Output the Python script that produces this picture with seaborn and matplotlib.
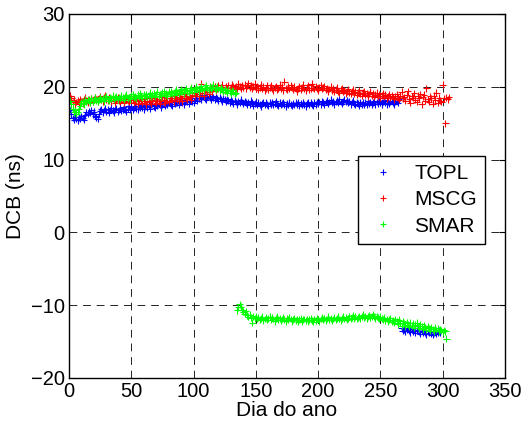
import numpy as np
import pandas as pd
import matplotlib
matplotlib.use("Agg")
import matplotlib.pyplot as plt
import seaborn as sns

# ================= data =================
# TOPL: upper branch days 1-265, lower branch days 267-298
topl_upper = [
    16.8, 16.2, 15.7, 15.5, 15.9, 15.6, 15.4, 15.8, 15.6, 16.0, 15.7, 15.5, 16.1, 16.5, 16.3, 16.6, 16.4, 16.8, 16.2, 16.6,
    16.0, 15.8, 15.6, 16.3, 16.7, 16.9, 16.5, 16.8, 17.0, 16.6, 16.9, 16.4, 16.8, 17.1, 16.7, 16.5, 16.9, 17.0, 16.6, 16.8,
    17.1, 16.7, 16.9, 17.2, 16.8, 16.6, 17.0, 17.3, 16.9, 17.1, 16.8, 17.2, 17.4, 17.0, 16.9, 17.3, 17.1, 17.5, 17.2, 16.9,
    17.3, 17.6, 17.2, 17.4, 17.0, 17.5, 17.7, 17.3, 17.1, 17.6, 17.4, 17.8, 17.5, 17.2, 17.6, 17.9, 17.4, 17.7, 17.5, 17.8,
    18.0, 17.6, 17.4, 17.9, 17.7, 18.1, 17.8, 17.5, 17.9, 18.2, 17.8, 17.6, 18.0, 18.3, 17.9, 17.7, 18.1, 18.4, 18.0, 17.8,
    18.2, 18.5, 18.1, 18.4, 18.7, 18.3, 18.6, 18.9, 18.4, 18.2, 18.6, 18.8, 18.5, 18.3, 18.7, 18.5, 18.2, 18.6, 18.4, 18.1,
    18.5, 18.3, 18.0, 18.4, 18.2, 17.9, 18.3, 18.1, 17.8, 18.2, 18.0, 17.7, 18.1, 17.9, 17.6, 18.0, 17.8, 18.2, 17.9, 17.7,
    18.0, 17.8, 17.5, 17.9, 17.6, 18.1, 17.8, 17.4, 17.7, 17.9, 17.5, 17.8, 17.6, 17.3, 17.7, 17.9, 17.5, 17.8, 17.6, 17.4,
    17.8, 17.6, 17.9, 17.5, 17.7, 18.0, 17.6, 17.4, 17.8, 17.5, 17.7, 17.9, 17.6, 17.3, 17.7, 17.5, 17.8, 17.6, 17.4, 17.7,
    17.5, 17.8, 17.6, 17.9, 17.4, 17.7, 17.5, 17.8, 17.6, 17.3, 17.7, 17.9, 17.5, 17.8, 17.6, 17.4, 17.8, 17.6, 17.9, 17.7,
    17.9, 17.6, 18.0, 17.8, 17.5, 17.9, 18.1, 17.7, 17.9, 18.2, 17.8, 18.0, 17.6, 17.9, 18.1, 17.8, 18.3, 17.9, 17.7, 18.0,
    18.2, 17.9, 18.1, 17.8, 18.0, 17.6, 17.9, 18.1, 17.7, 17.5, 17.9, 17.7, 17.4, 17.8, 17.6, 17.9, 17.5, 17.8, 17.6, 18.0,
    17.7, 17.9, 17.5, 17.8, 18.0, 17.6, 17.9, 17.7, 18.1, 17.8, 17.6, 17.9, 18.2, 17.8, 17.6, 18.0, 17.7, 17.9, 18.1, 17.8,
    17.6, 17.9, 18.1, 17.8, 18.3,
]
topl_upper_start = 1
topl_lower = [
    -13.2, -13.5, -13.3, -13.6, -13.4, -13.1, -13.5, -13.7, -13.3, -13.6, -13.4, -13.8, -13.5, -13.2, -13.6, -13.9,
    -13.5, -13.7, -13.4, -13.8, -14.0, -13.6, -13.8, -13.5, -13.9, -14.1, -13.7, -13.6, -13.9, -13.8, -13.5, -13.7,
]
topl_lower_start = 267

# MSCG: days 1-305 (outlier at day 302)
mscg = [
    18.8, 18.4, 17.9, 18.2, 17.6, 17.9, 18.1, 17.8, 18.3, 18.0, 17.7, 18.2, 18.5, 18.1, 17.8, 18.3, 18.0, 18.4, 17.9, 18.2,
    18.6, 18.3, 17.9, 18.4, 18.7, 18.2, 18.0, 18.5, 18.8, 18.3, 18.1, 18.6, 18.4, 18.0, 18.5, 18.2, 17.8, 18.3, 18.6, 18.1,
    17.9, 18.4, 18.2, 17.8, 18.3, 18.6, 18.1, 17.9, 18.4, 18.7, 18.2, 17.8, 18.3, 18.0, 17.7, 18.2, 18.5, 18.1, 17.8, 18.3,
    18.0, 17.6, 18.1, 18.4, 17.9, 17.7, 18.2, 18.5, 18.0, 17.8, 18.3, 18.1, 17.7, 18.2, 18.6, 18.0, 17.8, 18.4, 18.1, 17.9,
    18.4, 18.7, 18.2, 18.0, 18.5, 18.9, 18.3, 18.1, 18.6, 18.4, 18.0, 18.7, 19.0, 18.5, 18.3, 18.8, 18.6, 18.2, 18.9, 19.2,
    18.8, 19.3, 19.0, 18.7, 19.4, 20.4, 19.1, 18.8, 19.5, 19.8, 19.3, 19.0, 19.6, 19.9, 19.4, 19.7, 20.1, 19.5, 19.8, 20.2,
    19.6, 19.9, 20.3, 19.7, 19.5, 20.0, 19.8, 20.2, 19.6, 19.9, 20.3, 20.0, 19.7, 20.1, 19.8, 20.4, 20.0, 19.7, 20.2, 19.9,
    20.3, 19.8, 20.1, 20.5, 19.9, 20.2, 19.7, 20.0, 20.4, 19.8, 20.1, 19.6, 19.9, 20.3, 19.7, 20.0, 19.5, 19.8, 20.2, 19.6,
    19.9, 20.2, 19.7, 19.5, 19.9, 20.1, 19.6, 19.8, 20.3, 19.7, 20.0, 19.5, 20.7, 19.8, 19.6, 20.0, 19.7, 20.2, 19.9, 19.6,
    20.0, 19.7, 19.4, 19.8, 20.1, 19.6, 19.9, 20.3, 19.7, 19.5, 19.9, 20.2, 19.6, 19.8, 20.4, 19.9, 19.7, 20.1, 19.8, 19.5,
    19.9, 20.2, 19.7, 19.9, 20.1, 19.6, 19.8, 19.4, 19.7, 20.0, 19.5, 19.8, 19.3, 19.6, 19.9, 19.4, 19.2, 19.6, 19.8, 19.3,
    19.5, 19.1, 19.4, 19.7, 19.2, 19.0, 19.4, 19.6, 19.1, 19.3, 18.9, 19.2, 19.5, 19.0, 18.8, 19.2, 19.4, 18.9, 19.1, 18.7,
    19.0, 19.3, 18.8, 19.1, 18.6, 18.9, 19.2, 18.7, 19.0, 18.5, 18.8, 19.1, 18.6, 18.9, 18.4, 18.7, 19.0, 18.5, 18.8, 18.6,
    18.3, 18.7, 19.0, 18.5, 18.2, 18.8, 19.3, 18.4, 18.6, 18.1, 18.9, 19.4, 18.3, 17.8, 18.7, 18.5, 19.1, 18.2, 17.9, 18.8,
    18.4, 19.0, 17.6, 18.6, 18.9, 18.1, 19.8, 18.3, 17.9, 18.7, 18.4, 17.7, 18.8, 18.2, 19.2, 17.8, 18.5, 18.1, 17.9, 20.3,
    18.4, 15.0, 18.5, 18.3, 18.6,
]
mscg_start = 1

# SMAR: upper branch days 1-134, lower branch days 135-303
smar_upper = [
    18.1, 17.6, 17.0, 16.5, 16.8, 16.3, 16.6, 16.9, 17.4, 17.8, 18.0, 17.6, 18.2, 17.9, 18.3, 18.1, 17.8, 18.4, 18.0, 18.2,
    18.5, 18.1, 17.9, 18.3, 18.6, 18.2, 18.4, 18.0, 18.5, 18.7, 18.3, 18.1, 18.6, 18.4, 18.8, 18.2, 18.5, 18.7, 18.3, 18.6,
    18.4, 18.8, 18.5, 18.2, 18.7, 18.9, 18.4, 18.6, 18.3, 18.8, 19.0, 18.5, 18.7, 18.4, 18.9, 18.6, 19.1, 18.7, 18.5, 18.9,
    18.7, 19.0, 18.6, 18.8, 19.2, 18.7, 18.9, 19.1, 18.6, 19.0, 19.3, 18.8, 19.0, 18.7, 19.2, 19.4, 18.9, 19.1, 18.8, 19.3,
    19.0, 19.4, 19.1, 18.9, 19.3, 19.6, 19.2, 19.0, 19.4, 19.7, 19.3, 19.1, 19.5, 19.8, 19.4, 19.2, 19.6, 19.9, 19.5, 19.3,
    19.7, 20.0, 19.6, 19.4, 19.8, 20.1, 19.7, 19.5, 19.9, 20.2, 19.8, 19.6, 20.0, 19.7, 19.9, 20.3, 19.8, 19.6, 20.0, 19.7,
    19.5, 19.9, 19.6, 19.3, 19.7, 19.5, 19.2, 19.6, 19.4, 19.1, 19.5, 19.3, 19.0, 19.2,
]
smar_upper_start = 1
smar_lower = [
    -10.7, -10.3, -9.9, -10.2, -10.6, -10.9, -11.2, -10.8, -11.4, -11.6, -11.3, -11.7, -12.4, -11.5, -11.8, -11.6,
    -11.9, -11.7, -12.0, -11.8, -11.6, -12.1, -11.9, -11.7, -12.0, -11.8, -11.6, -12.0, -11.7, -11.9, -12.2, -11.8, -11.6, -12.0, -11.8, -12.1,
    -11.9, -11.7, -12.0, -12.2, -11.8, -12.0, -11.7, -11.9, -12.2, -12.0, -11.8, -12.1, -11.9, -12.3, -12.0, -11.8, -12.2, -12.0, -11.9, -12.1,
    -11.9, -12.2, -12.0, -11.8, -12.1, -12.3, -11.9, -12.1, -11.8, -12.0, -12.2, -11.9, -11.7, -12.0, -11.8, -12.1, -11.9, -11.6, -12.0, -11.8,
    -12.1, -11.9, -11.7, -12.0, -11.8, -11.6, -11.9, -12.1, -11.8, -11.6, -11.9, -11.7, -12.0, -11.8, -11.5, -11.9, -11.7, -11.4, -11.8, -11.6,
    -11.9, -11.7, -11.5, -11.8, -11.6, -11.3, -11.7, -11.5, -11.8, -11.6, -11.4, -11.7, -11.5, -11.2, -11.6, -11.8, -11.5, -11.7, -11.9, -11.6,
    -11.8, -12.0, -11.7, -12.1, -11.9, -12.2, -12.0, -11.8, -12.3, -12.1, -12.4, -11.9, -12.2, -12.6, -12.0, -12.4, -12.8, -12.2, -12.5, -12.9,
    -12.3, -12.7, -13.0, -12.4, -12.8, -12.5, -13.1, -12.7, -12.4, -12.9, -13.2, -12.6, -12.9, -13.3, -12.8, -13.0, -13.4, -12.9, -13.2, -13.5,
    -13.0, -13.3, -13.6, -13.1, -13.4, -13.2, -13.6, -13.3, -13.5, -13.7, -13.4, -13.6, -14.6,
]
smar_lower_start = 135

stations = ["TOPL", "MSCG", "SMAR"]
colors = {"TOPL": "#0000ff", "MSCG": "#ff0000", "SMAR": "#00ff00"}
x_ticks = [0, 50, 100, 150, 200, 250, 300, 350]
y_ticks = [-20, -10, 0, 10, 20, 30]


def block(name, values, start):
    return pd.DataFrame({"station": name,
                         "dia": np.arange(start, start + len(values)),
                         "dcb": values})


df = pd.concat([
    block("TOPL", topl_upper, topl_upper_start),
    block("TOPL", topl_lower, topl_lower_start),
    block("MSCG", mscg, mscg_start),
    block("SMAR", smar_upper, smar_upper_start),
    block("SMAR", smar_lower, smar_lower_start),
], ignore_index=True)

# ================= plotting =================
sns.set_style("white")
plt.rcParams["font.family"] = ["Liberation Sans", "DejaVu Sans"]

fig = plt.figure(figsize=(5.32, 4.29), dpi=100)
ax = fig.add_axes([0.1297, 0.1189, 0.8195, 0.8485])

sns.scatterplot(data=df, x="dia", y="dcb", hue="station", hue_order=stations,
                palette=colors, marker="+", s=24, linewidth=0.8, ax=ax, legend=False)

ax.set_xlim(0, 350)
ax.set_ylim(-20, 30)
ax.set_xticks(x_ticks)
ax.set_yticks(y_ticks)
ax.grid(True, color="#222222", linewidth=0.7, linestyle=(0, (8, 6)))
ax.set_axisbelow(True)
for sp in ax.spines.values():
    sp.set_color("black")
    sp.set_linewidth(1.0)
ax.tick_params(direction="in", length=4, width=0.8, top=True, right=True,
               labelsize=14.5, pad=3, colors="black")
ax.set_xlabel("Dia do ano", fontsize=15, labelpad=0, color="black")
ax.set_ylabel("DCB (ns)", fontsize=15, labelpad=4, color="black")

handles = [plt.Line2D([], [], linestyle="none", marker="+", markersize=4,
                      markeredgewidth=0.8, color=colors[s]) for s in stations]
leg = ax.legend(handles, stations, loc="lower left", bbox_to_anchor=(0.663, 0.368),
                fontsize=15, frameon=True, fancybox=False, edgecolor="black",
                framealpha=1, borderpad=0.4, labelspacing=0.35, handlelength=1.6,
                handletextpad=0.7, borderaxespad=0)
leg.get_frame().set_linewidth(1.0)
for t in leg.get_texts():
    t.set_color("black")

fig.savefig("out.png", dpi=100)
